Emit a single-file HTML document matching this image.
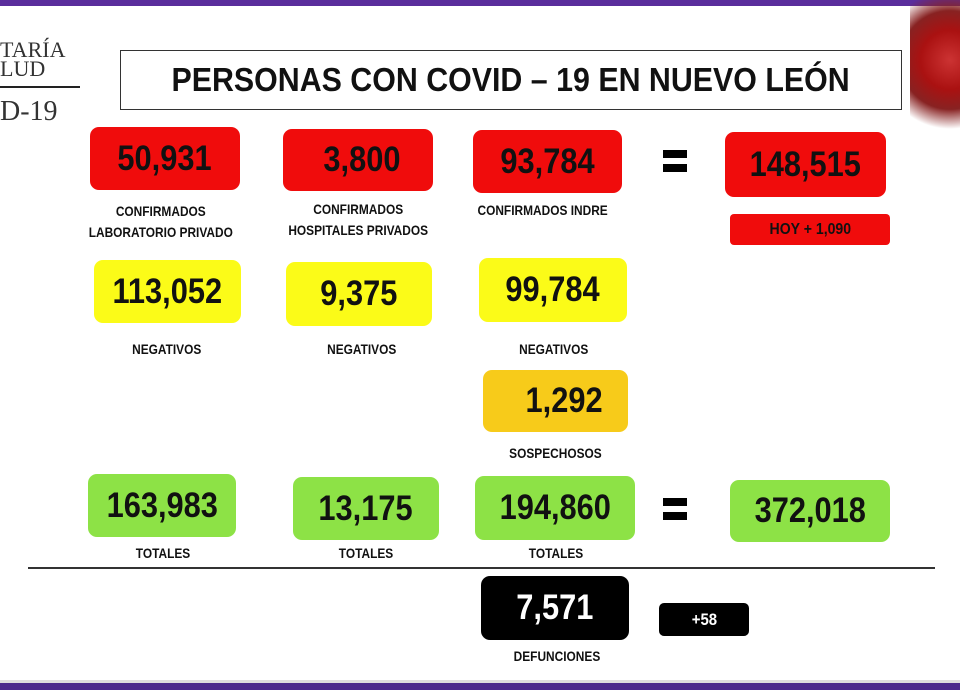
<!DOCTYPE html>
<html><head><meta charset="utf-8"><style>
body{margin:0;width:960px;height:690px;background:#fff;position:relative;overflow:hidden;font-family:"Liberation Sans",sans-serif}
.a{position:absolute}
.b{position:absolute;border-radius:9px;display:flex;align-items:center;justify-content:center;font-weight:bold;color:#111;font-size:35px;white-space:nowrap}
.b span,.l span{display:inline-block;transform:scaleX(.88)}
.r{background:#f00c0c}.y{background:#fbfb18}.o{background:#f7cb1a}.g{background:#8de246}.k{background:#000;color:#fff}
.l{position:absolute;font-weight:bold;font-size:14px;color:#111;text-align:center;line-height:21px;white-space:nowrap}
.l span{transform:scaleX(.85)}
.eq{position:absolute;width:24px;height:8px;background:#000}
</style></head><body>
<div class="a" style="left:0;top:0;width:960px;height:6px;background:#5a2d9c"></div>
<div class="a" style="left:0;top:683px;width:960px;height:7px;background:#4b2a8c"></div>
<div class="a" style="left:0;top:680px;width:960px;height:3px;background:#ddd"></div>
<div class="a" style="left:0;top:40px;font-family:'Liberation Serif',serif;font-size:22px;line-height:19px;color:#333">TARÍA<br>LUD</div>
<div class="a" style="left:0;top:86px;width:80px;height:2px;background:#222"></div>
<div class="a" style="left:0;top:96px;font-family:'Liberation Serif',serif;font-size:28px;color:#333">D-19</div>
<div class="a" style="left:910px;top:0;width:50px;height:150px;background:radial-gradient(circle at 40px 60px,#c33 0,#a11 30%,#822 50%,rgba(255,255,255,0) 70%)"></div>
<div class="a" style="left:120px;top:50px;width:780px;height:58px;border:1.5px solid #333;display:flex;align-items:center;justify-content:center;font-weight:bold;font-size:33px;color:#111;white-space:nowrap"><span style="display:inline-block;transform:scaleX(.92)">PERSONAS CON COVID – 19 EN NUEVO LEÓN</span></div>

<div class="b r" style="left:90px;top:127px;width:150px;height:63px"><span>50,931</span></div>
<div class="b r" style="left:283px;top:129px;width:150px;height:62px"><span>&nbsp;3,800</span></div>
<div class="b r" style="left:473px;top:130px;width:149px;height:63px"><span>93,784</span></div>
<div class="eq" style="left:663px;top:150px"></div><div class="eq" style="left:663px;top:164px"></div>
<div class="b r" style="left:725px;top:132px;width:161px;height:65px"><span>148,515</span></div>
<div class="b r" style="left:730px;top:214px;width:160px;height:31px;font-size:16px;border-radius:4px"><span>HOY + 1,090</span></div>
<div class="l" style="left:61px;top:201px;width:200px"><span>CONFIRMADOS<br>LABORATORIO PRIVADO</span></div>
<div class="l" style="left:258px;top:199px;width:200px"><span>CONFIRMADOS<br>HOSPITALES PRIVADOS</span></div>
<div class="l" style="left:443px;top:200px;width:200px"><span>CONFIRMADOS INDRE</span></div>

<div class="b y" style="left:94px;top:260px;width:147px;height:63px"><span>113,052</span></div>
<div class="b y" style="left:286px;top:262px;width:146px;height:64px"><span>9,375</span></div>
<div class="b y" style="left:479px;top:258px;width:148px;height:64px"><span>99,784</span></div>
<div class="l" style="left:67px;top:339px;width:200px"><span>NEGATIVOS</span></div>
<div class="l" style="left:262px;top:339px;width:200px"><span>NEGATIVOS</span></div>
<div class="l" style="left:454px;top:339px;width:200px"><span>NEGATIVOS</span></div>

<div class="b o" style="left:483px;top:370px;width:145px;height:62px"><span>&nbsp;&nbsp;1,292</span></div>
<div class="l" style="left:455px;top:443px;width:200px"><span>SOSPECHOSOS</span></div>

<div class="b g" style="left:88px;top:474px;width:148px;height:63px"><span>163,983</span></div>
<div class="b g" style="left:293px;top:477px;width:146px;height:63px"><span>13,175</span></div>
<div class="b g" style="left:475px;top:476px;width:160px;height:64px"><span>194,860</span></div>
<div class="eq" style="left:663px;top:498px"></div><div class="eq" style="left:663px;top:512px"></div>
<div class="b g" style="left:730px;top:480px;width:160px;height:62px"><span>372,018</span></div>
<div class="l" style="left:63px;top:543px;width:200px"><span>TOTALES</span></div>
<div class="l" style="left:266px;top:543px;width:200px"><span>TOTALES</span></div>
<div class="l" style="left:456px;top:543px;width:200px"><span>TOTALES</span></div>
<div class="a" style="left:28px;top:567px;width:907px;height:2px;background:#333"></div>

<div class="b k" style="left:481px;top:576px;width:148px;height:64px"><span>7,571</span></div>
<div class="b k" style="left:659px;top:603px;width:90px;height:33px;font-size:17px;border-radius:5px"><span>+58</span></div>
<div class="l" style="left:457px;top:646px;width:200px"><span>DEFUNCIONES</span></div>
</body></html>
